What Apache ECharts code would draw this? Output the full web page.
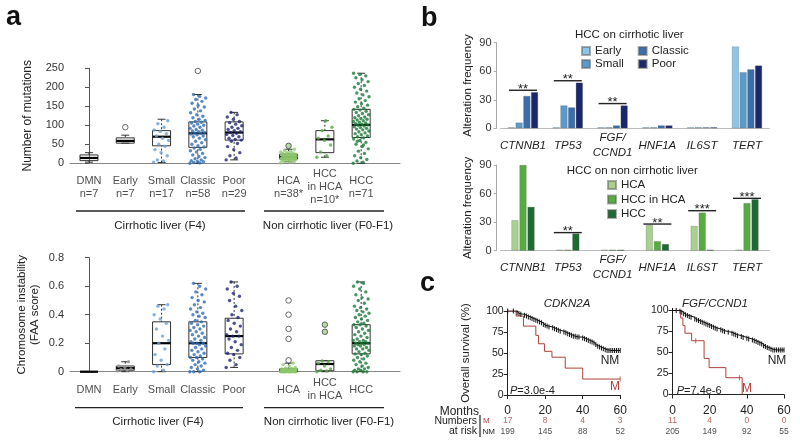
<!DOCTYPE html>
<html><head><meta charset="utf-8">
<script src="https://cdn.jsdelivr.net/npm/echarts@6/dist/echarts.min.js"></script>
<style>html,body{margin:0;padding:0;background:#fff}#c{width:800px;height:447px}</style>
</head><body><div id="c"></div>
<script>
// ================= DATA =================
// Panel a
const aCategories = ['DMN','Early','Small','Classic','Poor','HCA','HCC in HCA','HCC'];
const aTopLabels = ['DMN\nn=7','Early\nn=7','Small\nn=17','Classic\nn=58','Poor\nn=29','HCA\nn=38*','HCC\nin HCA\nn=10*','HCC\nn=71'];
const aBottomLabels = ['DMN','Early','Small','Classic','Poor','HCA','HCC\nin HCA','HCC'];
// box stats: [low whisker, q1, median, q3, high whisker]
const mutBox = [[3,7,14,22,28],[53,53,59,67,74],[2,46,70,86,116],[0,42,79,109,181],[9,61,81,109,134],[4,11,17,24,37],[16,28,63,86,112],[0,68,101,142,237]];
const faaBox = [[0,0,0,0,0],[0,0.01,0.025,0.04,0.07],[0,0.05,0.2,0.35,0.47],[0,0.1,0.2,0.35,0.62],[0.03,0.125,0.25,0.375,0.63],[0,0,0.005,0.02,0.06],[0,0.007,0.054,0.077,0.077],[0,0.125,0.2,0.33,0.63]];
const mutOutliers = [[],[95],[],[243],[],[46],[],[]];
const faaOutliers = [[],[],[],[],[],[0.08,0.23,0.3,0.4,0.5],[0.28,0.33],[]];
// individual samples
const mutSmall = [3,6,9,20,28,36,45,50,60,66,72,78,84,88,95,104,112];
const mutClassic = [0,1,2,4,5,7,9,12,15,18,22,26,30,33,37,40,43,46,50,54,58,62,66,70,72,75,77,79,80,81,83,85,87,89,92,95,98,100,103,106,108,110,113,116,120,124,128,133,138,143,148,152,158,163,168,172,176,181];
const mutPoor = [9,14,20,28,36,44,52,58,61,63,66,70,73,76,79,81,83,86,89,92,95,99,103,107,110,116,122,128,134];
const mutHCA = [1,3,4,5,6,7,8,9,10,10,11,12,13,13,14,15,15,16,16,17,17,18,19,19,20,21,22,22,23,24,25,26,27,28,30,32,34,37];
const mutHCCinHCA = [16,20,30,48,60,66,72,86,95,112];
const mutHCC = [0,3,6,10,15,20,26,32,38,44,50,55,60,64,67,70,72,75,78,80,83,85,88,90,92,94,96,98,100,101,102,104,106,108,110,112,114,116,118,120,122,125,128,131,134,137,140,142,145,149,153,157,161,165,170,175,180,185,190,195,200,205,210,215,220,225,230,234,237,48,58];
const faaEarly = [0.005,0.01,0.015,0.02,0.03,0.04,0.07];
const faaSmall = [0,0.01,0.04,0.05,0.08,0.12,0.16,0.2,0.22,0.25,0.3,0.34,0.37,0.4,0.44,0.46,0.47];
const faaClassic = [0,0,0,0.01,0.02,0.03,0.04,0.05,0.06,0.07,0.08,0.09,0.1,0.1,0.11,0.12,0.13,0.14,0.15,0.16,0.17,0.18,0.19,0.2,0.2,0.2,0.21,0.22,0.23,0.24,0.25,0.26,0.27,0.28,0.29,0.3,0.31,0.32,0.33,0.34,0.35,0.36,0.38,0.39,0.4,0.41,0.42,0.44,0.45,0.47,0.49,0.5,0.52,0.54,0.56,0.58,0.6,0.62];
const faaPoor = [0.03,0.05,0.08,0.1,0.12,0.13,0.15,0.17,0.19,0.21,0.23,0.25,0.25,0.26,0.28,0.3,0.32,0.34,0.36,0.38,0.4,0.43,0.46,0.5,0.53,0.55,0.58,0.6,0.63];
const faaHCA = [0,0,0,0,0,0,0,0,0,0,0,0.002,0.003,0.004,0.005,0.005,0.006,0.007,0.008,0.01,0.01,0.012,0.014,0.015,0.017,0.02,0.02,0.022,0.025,0.03,0.04,0.05,0.06];
const faaHCCinHCA = [0,0.005,0.01,0.02,0.04,0.06,0.07,0.075];
const faaHCC = [0,0,0,0,0.01,0.01,0.02,0.02,0.03,0.04,0.05,0.06,0.07,0.08,0.09,0.1,0.11,0.12,0.125,0.13,0.14,0.15,0.16,0.16,0.17,0.18,0.18,0.19,0.19,0.2,0.2,0.2,0.21,0.21,0.22,0.22,0.23,0.24,0.25,0.26,0.27,0.28,0.29,0.3,0.31,0.32,0.33,0.33,0.34,0.35,0.36,0.37,0.38,0.39,0.4,0.41,0.42,0.43,0.44,0.45,0.46,0.48,0.5,0.51,0.52,0.54,0.56,0.58,0.6,0.62,0.63];

// Panel b
const bGenes = ['CTNNB1','TP53','FGF/\nCCND1','HNF1A','IL6ST','TERT'];
const cirrEarly = [0,0,0,0,0,86];
const cirrSmall = [6,24,0,0,0,59];
const cirrClassic = [34,22,3,3,0,62];
const cirrPoor = [38,48,24,3,0,66];
const noncHCA = [32,0,0,27,26,0];
const noncHCCinHCA = [90,0,0,10,40,50];
const noncHCC = [46,18,1,7,1,54];
const sigTopIdx = [0,1,2], sigTopVal = [40,50,26], sigTopText = ['**','**','**'];
const sigBotIdx = [1,3,4,5], sigBotVal = [19,28,42,55], sigBotText = ['**','**','***','***'];

// Panel c (Kaplan-Meier)
const kmLeftNM = [[0,100],[3,100],[5,98],[6,97],[7,96],[9,95],[10,94],[11,93],[12,92],[13,91],[14,90],[15,89],[16,88],[17,87],[18,86],[19,84],[20,83],[21,82],[22,81],[24,80],[25,79],[26,78],[27,77],[28,76],[30,75],[31,74],[32,73],[33,72],[34,71],[35,70],[36,70],[37,69],[38,69],[40,68],[41,67],[42,66],[43,65],[44,64],[45,63],[46,62],[47,60],[48,58],[49,57],[50,56],[51,55],[52,54],[53,53],[54,53],[55,53],[56,53],[57,53],[58,53],[59,53],[60,53]];
const kmLeftM = [[0,100],[4.5,94],[8.4,82],[15,71],[16.4,61],[19.6,52],[23.6,45],[30.7,32],[40,19],[60,19]];
const kmLeftMCensor = [[60,19]];
const kmRightNM = [[0,100],[2,100],[4,99],[5,98],[6,96],[7,95],[8,94],[9,93],[10,92],[12,90],[13,89],[14,88],[15,87],[16,86],[17,85],[18,84],[19,83],[20,82],[21,81],[22,80],[23,79],[24,78],[26,77],[27,76],[28,75],[30,74],[32,73],[33,72],[34,71],[35,70],[37,69],[38,68],[40,67],[41,66],[43,65],[44,64],[45,63],[46,62],[47,61],[48,60],[49,58],[50,57],[51,56],[52,55],[53,54],[54,53],[55,53],[56,53],[57,53],[58,53],[59,53],[60,53]];
const kmRightM = [[0,100],[4.4,91],[5.6,82],[6.7,73],[10.3,64],[17,43],[19.7,32],[28.7,20],[37.5,0]];
const kmRightMCensor = [[12.5,64],[36,20]];
const kmTicks = [0,20,40,60];
const riskLeftM = [17,8,4,3], riskLeftNM = [199,145,88,52];
const riskRightM = [11,4,0,0], riskRightNM = [205,149,92,55];

// ================= LAYOUT / STYLE =================
const FONT = '"Liberation Sans", Arial, Helvetica, sans-serif';
const catPos = [0,1,2,3,4,5.5,6.5,7.5];
const ptColor = {Early:'#9a9a9a', Small:'#6a9fd2', Classic:'#2f6db2', Poor:'#1d2672', HCA:'#8cc86a', 'HCC in HCA':'#54ad42', HCC:'#1b7a37'};
const mutGroups = {Small:mutSmall, Classic:mutClassic, Poor:mutPoor, HCA:mutHCA, 'HCC in HCA':mutHCCinHCA, HCC:mutHCC};
const faaGroups = {Early:faaEarly, Small:faaSmall, Classic:faaClassic, Poor:faaPoor, HCA:faaHCA, 'HCC in HCA':faaHCCinHCA, HCC:faaHCC};
const outFillTop = {HCA:'#a5cf8b'};
const outFillBot = {'HCC in HCA':'#a5cf8b'};
const RED = '#b0403a';

function jitter(j){ return (((j*0.6180339887) % 1) - 0.5) * 0.44; }

function boxRender(params, api){
  const x = api.value(0);
  const lo = api.coord([x, api.value(1)]), q1 = api.coord([x, api.value(2)]),
        md = api.coord([x, api.value(3)]), q3 = api.coord([x, api.value(4)]),
        hi = api.coord([x, api.value(5)]);
  const hw = 9, cw = 4, cx = md[0];
  const ls = {stroke:'#333', lineWidth:1, lineDash:[2,2]};
  return {type:'group', children:[
    {type:'line', shape:{x1:cx,y1:hi[1],x2:cx,y2:q3[1]}, style:ls},
    {type:'line', shape:{x1:cx,y1:lo[1],x2:cx,y2:q1[1]}, style:ls},
    {type:'line', shape:{x1:cx-cw,y1:hi[1],x2:cx+cw,y2:hi[1]}, style:{stroke:'#333',lineWidth:1}},
    {type:'line', shape:{x1:cx-cw,y1:lo[1],x2:cx+cw,y2:lo[1]}, style:{stroke:'#333',lineWidth:1}},
    {type:'rect', shape:{x:cx-hw,y:q3[1],width:2*hw,height:q1[1]-q3[1]}, style:{fill:'rgba(255,255,255,0.15)',stroke:'#333',lineWidth:1}},
    {type:'line', shape:{x1:cx-hw,y1:md[1],x2:cx+hw,y2:md[1]}, style:{stroke:'#000',lineWidth:2.2}, z2:10}
  ]};
}
function sigRender(params, api){
  const p = api.coord([api.value(0), api.value(1)]);
  const t = params.seriesName === 'sigTop' ? sigTopText[params.dataIndex] : sigBotText[params.dataIndex];
  return {type:'group', children:[
    {type:'line', shape:{x1:p[0]-14,y1:p[1],x2:p[0]+14,y2:p[1]}, style:{stroke:'#222',lineWidth:1.4}},
    {type:'text', x:p[0], y:p[1]-1, style:{text:t, align:'center', verticalAlign:'middle', fontSize:13, fontFamily:FONT, fill:'#222'}}
  ]};
}

const series = [];
// boxes
series.push({type:'custom', name:'boxTop', xAxisIndex:0, yAxisIndex:0, renderItem:boxRender, encode:{x:0,y:[1,2,3,4,5]},
  data: mutBox.map((b,i)=>[catPos[i], ...b]), z:2, silent:true});
series.push({type:'custom', name:'boxBot', xAxisIndex:1, yAxisIndex:1, renderItem:boxRender, encode:{x:0,y:[1,2,3,4,5]},
  data: faaBox.map((b,i)=>[catPos[i], ...b]), z:2, silent:true});
// points
function addPoints(groups, axis){
  Object.keys(groups).forEach(name=>{
    const ci = aCategories.indexOf(name);
    series.push({type:'scatter', name:'pts'+axis+name, xAxisIndex:axis, yAxisIndex:axis, symbolSize:3.4, clip:false, z:3, silent:true,
      itemStyle:{color:ptColor[name]},
      data: groups[name].map((v,j)=>[catPos[ci]+jitter(j), v])});
  });
}
addPoints(mutGroups, 0);
addPoints(faaGroups, 1);
// outliers
function addOutliers(list, axis, fills){
  const d = [];
  list.forEach((arr,i)=>arr.forEach(v=>d.push({value:[catPos[i], v], itemStyle:{color: fills[aCategories[i]] || '#fff'}})));
  series.push({type:'scatter', name:'out'+axis, xAxisIndex:axis, yAxisIndex:axis, symbolSize:5.5, clip:false, z:4, silent:true,
    itemStyle:{borderColor:'#444', borderWidth:1}, data:d});
}
addOutliers(mutOutliers, 0, outFillTop);
addOutliers(faaOutliers, 1, outFillBot);
// category labels
series.push({type:'scatter', name:'labTop', xAxisIndex:0, yAxisIndex:0, symbolSize:1, clip:false, silent:true,
  itemStyle:{color:'rgba(0,0,0,0)'}, data: catPos.map(p=>[p,0]),
  label:{show:true, position:'inside', offset:[0,24], formatter:p=>aTopLabels[p.dataIndex], fontSize:11, lineHeight:13, color:'#222', fontFamily:FONT}});
series.push({type:'scatter', name:'labBot', xAxisIndex:1, yAxisIndex:1, symbolSize:1, clip:false, silent:true,
  itemStyle:{color:'rgba(0,0,0,0)'}, data: catPos.map(p=>[p,0]),
  label:{show:true, position:'inside', offset:[0,18], formatter:p=>aBottomLabels[p.dataIndex], fontSize:11, lineHeight:12.5, color:'#222', fontFamily:FONT}});

// bars panel b
const barTop = [['Early',cirrEarly,'#8cc5e8'],['Small',cirrSmall,'#5a9bcb'],['Classic',cirrClassic,'#3a6fab'],['Poor',cirrPoor,'#1a276c']];
barTop.forEach(([n,d,c])=>series.push({type:'bar', name:n, xAxisIndex:2, yAxisIndex:2, data:d, barWidth:7, barGap:'10%', barMinHeight:1,
  itemStyle:{color:c, borderColor:'rgba(90,90,90,0.5)', borderWidth:0.5}, silent:true}));
const barBot = [['HCA',noncHCA,'#a8d18e'],['HCC in HCA',noncHCCinHCA,'#56ac3e'],['HCC',noncHCC,'#1c6b35']];
barBot.forEach(([n,d,c])=>series.push({type:'bar', name:n, xAxisIndex:3, yAxisIndex:3, data:d, barWidth:7, barGap:'15%', barMinHeight:1,
  itemStyle:{color:c, borderColor:'rgba(90,90,90,0.5)', borderWidth:0.5}, silent:true}));
series.push({type:'custom', name:'sigTop', xAxisIndex:2, yAxisIndex:2, renderItem:sigRender, data:sigTopIdx.map((c,i)=>[c,sigTopVal[i]]), z:5, silent:true});
series.push({type:'custom', name:'sigBot', xAxisIndex:3, yAxisIndex:3, renderItem:sigRender, data:sigBotIdx.map((c,i)=>[c,sigBotVal[i]]), z:5, silent:true});

// KM curves
function addKM(nm, m, mc, axis, rM, rNM){
  series.push({type:'line', name:'nm'+axis, xAxisIndex:axis, yAxisIndex:axis, data:nm, step:'end', showSymbol:true, symbol:'rect', symbolSize:[1,5],
    lineStyle:{color:'#111', width:1}, itemStyle:{color:'#111'}, silent:true, z:3});
  series.push({type:'line', name:'m'+axis, xAxisIndex:axis, yAxisIndex:axis, data:m, step:'end', showSymbol:false,
    lineStyle:{color:RED, width:1}, silent:true, z:2});
  series.push({type:'scatter', name:'mc'+axis, xAxisIndex:axis, yAxisIndex:axis, data:mc, symbol:'rect', symbolSize:[1,5], clip:false,
    itemStyle:{color:RED}, silent:true});
  series.push({type:'scatter', name:'rM'+axis, xAxisIndex:axis, yAxisIndex:axis, symbolSize:1, clip:false, silent:true,
    itemStyle:{color:'rgba(0,0,0,0)'}, data:kmTicks.map(t=>[t,0]),
    label:{show:true, position:'inside', offset:[0,26], formatter:p=>String(rM[p.dataIndex]), fontSize:8.5, color:RED, fontFamily:FONT}});
  series.push({type:'scatter', name:'rNM'+axis, xAxisIndex:axis, yAxisIndex:axis, symbolSize:1, clip:false, silent:true,
    itemStyle:{color:'rgba(0,0,0,0)'}, data:kmTicks.map(t=>[t,0]),
    label:{show:true, position:'inside', offset:[0,37], formatter:p=>String(rNM[p.dataIndex]), fontSize:8.5, color:'#222', fontFamily:FONT}});
}
addKM(kmLeftNM, kmLeftM, kmLeftMCensor, 4, riskLeftM, riskLeftNM);
addKM(kmRightNM, kmRightM, kmRightMCensor, 5, riskRightM, riskRightNM);

// ================= AXES =================
const gridBase = {outerBoundsMode:'none', containLabel:false};
const grids = [
  {left:70, top:68.3, width:330, height:95},
  {left:70, top:257.7, width:330, height:114},
  {left:500.6, top:42.7, width:268.8, height:85.6},
  {left:500.6, top:165, width:268.8, height:85.7},
  {left:507.7, top:311, width:112.5, height:84},
  {left:672.5, top:310.5, width:111.5, height:84}
].map(g=>Object.assign({}, gridBase, g));

const aX = gi => ({gridIndex:gi, type:'value', min:-0.523, max:8.57, axisLine:{lineStyle:{color:'#888'}}, axisTick:{show:false}, axisLabel:{show:false}, splitLine:{show:false}});
const bX = gi => ({gridIndex:gi, type:'category', data:bGenes, axisLine:{lineStyle:{color:'#bbb'}}, axisTick:{show:false},
  axisLabel:{fontStyle:'italic', fontSize:11.5, color:'#222', margin:17, verticalAlign:'middle', lineHeight:15, interval:0, fontFamily:FONT}});
const cX = gi => ({gridIndex:gi, type:'value', min:0, max:60, interval:20, offset:5, axisLine:{lineStyle:{color:'#222'}},
  axisTick:{length:4, lineStyle:{color:'#222'}}, axisLabel:{fontSize:12, color:'#222', margin:5, fontFamily:FONT}, splitLine:{show:false}});
const nameStyle = {fontSize:11.5, color:'#222', fontFamily:FONT};
const yAxes = [
  {gridIndex:0, type:'value', min:0, max:250, interval:50, name:'Number of mutations', nameLocation:'middle', nameGap:36, nameTextStyle:Object.assign({}, nameStyle, {fontSize:12}),
   axisLine:{show:true, lineStyle:{color:'#555'}}, axisTick:{show:true, length:4}, axisLabel:{fontSize:11, color:'#333', margin:6, fontFamily:FONT}, splitLine:{show:false}},
  {gridIndex:1, type:'value', min:0, max:0.8, interval:0.2, name:'Chromosome instability\n(FAA score)', nameLocation:'middle', nameGap:29, nameTextStyle:Object.assign({lineHeight:13}, nameStyle),
   axisLine:{show:true, lineStyle:{color:'#555'}}, axisTick:{show:true, length:4}, axisLabel:{fontSize:11, color:'#333', margin:6, fontFamily:FONT, formatter:v=>String(+v.toFixed(1))}, splitLine:{show:false}},
  {gridIndex:2, type:'value', min:0, max:90, interval:30, offset:4, name:'Alteration frequency', nameLocation:'middle', nameGap:23, nameTextStyle:nameStyle,
   axisLine:{show:true, lineStyle:{color:'#aaa'}}, axisTick:{show:true, length:3, lineStyle:{color:'#aaa'}}, axisLabel:{fontSize:11, color:'#333', margin:5, fontFamily:FONT}, splitLine:{show:false}},
  {gridIndex:3, type:'value', min:0, max:90, interval:30, offset:4, name:'Alteration frequency', nameLocation:'middle', nameGap:23, nameTextStyle:nameStyle,
   axisLine:{show:true, lineStyle:{color:'#aaa'}}, axisTick:{show:true, length:3, lineStyle:{color:'#aaa'}}, axisLabel:{fontSize:11, color:'#333', margin:5, fontFamily:FONT}, splitLine:{show:false}},
  {gridIndex:4, type:'value', min:0, max:100, interval:25, name:'Overall survival (%)', nameLocation:'middle', nameGap:36, nameTextStyle:nameStyle,
   axisLine:{show:true, lineStyle:{color:'#222'}}, axisTick:{show:true, length:4, lineStyle:{color:'#222'}}, axisLabel:{fontSize:10.5, color:'#222', margin:4, fontFamily:FONT}, splitLine:{show:false}},
  {gridIndex:5, type:'value', min:0, max:100, interval:25,
   axisLine:{show:true, lineStyle:{color:'#222'}}, axisTick:{show:true, length:4, lineStyle:{color:'#222'}}, axisLabel:{fontSize:10.5, color:'#222', margin:4, fontFamily:FONT}, splitLine:{show:false}}
];

// ================= ANNOTATIONS =================
function txt(text, x, y, o){
  o = o || {};
  return {type:'text', x:x, y:y, silent:true, style:Object.assign({text:text, align:o.align||'center', verticalAlign:'middle',
    fontSize:o.size||11.5, fontFamily:FONT, fontWeight:o.weight||'normal', fontStyle:o.style||'normal', fill:o.color||'#222'}, o.extra||{})};
}
function ln(x1,y1,x2,y2,w){ return {type:'line', silent:true, shape:{x1,y1,x2,y2}, style:{stroke:'#222', lineWidth:w||1.3}}; }
const graphics = [
  txt('a', 6, 18, {align:'left', size:27, weight:'bold', color:'#111'}),
  txt('b', 421, 19, {align:'left', size:27, weight:'bold', color:'#111'}),
  txt('c', 420, 284, {align:'left', size:27, weight:'bold', color:'#111'}),
  ln(76,211,245,211), ln(264,211,384,211), ln(75,407.7,243,407.7), ln(264,407.7,384,407.7),
  txt('Cirrhotic liver (F4)', 160, 226), txt('Non cirrhotic liver (F0-F1)', 328, 226),
  txt('Cirrhotic liver (F4)', 158, 421.7), txt('Non cirrhotic liver (F0-F1)', 329, 421.7),
  txt('HCC on cirrhotic liver', 575, 35, {align:'left'}),
  txt('HCC on non cirrhotic liver', 566.7, 171, {align:'left'}),
  txt('CDKN2A', 567, 304, {style:'italic'}),
  txt('FGF/CCND1', 715, 304, {style:'italic'}),
  txt('{i|P}=3.0e-4', 510, 391, {align:'left', size:11, extra:{rich:{i:{fontStyle:'italic', fontSize:11, fontFamily:FONT, fill:'#222'}}}}),
  txt('{i|P}=7.4e-6', 676.7, 391, {align:'left', size:11, extra:{rich:{i:{fontStyle:'italic', fontSize:11, fontFamily:FONT, fill:'#222'}}}}),
  txt('NM', 610, 361, {size:12}), txt('M', 615, 387, {size:12, color:RED}),
  txt('NM', 777, 361, {size:12}), txt('M', 747, 389, {size:12, color:RED}),
  txt('Months', 479, 411.7, {align:'right', size:12}),
  txt('Numbers', 477, 421.5, {align:'right', size:10.5}),
  txt('at risk', 477, 431.5, {align:'right', size:10.5}),
  ln(480,415,480,437,1.2),
  txt('M', 483, 421, {align:'left', size:8, color:RED}),
  txt('NM', 482.5, 432, {align:'left', size:8})
];

const legendText = {fontSize:11.5, color:'#222', fontFamily:FONT, lineHeight:12};
const option = {
  animation:false,
  backgroundColor:'#fff',
  textStyle:{fontFamily:FONT},
  grid:grids,
  xAxis:[aX(0), aX(1), bX(2), bX(3), cX(4), cX(5)],
  yAxis:yAxes,
  legend:[
    {data:['Early','Classic'], left:581, top:45, orient:'horizontal', icon:'rect', itemWidth:8, itemHeight:8, itemGap:16.5, selectedMode:false, textStyle:legendText, padding:0},
    {data:['Small','Poor'], left:581, top:58, orient:'horizontal', icon:'rect', itemWidth:8, itemHeight:8, itemGap:14, selectedMode:false, textStyle:legendText, padding:0},
    {data:['HCA','HCC in HCA','HCC'], left:607, top:179, orient:'vertical', icon:'rect', itemWidth:8, itemHeight:8, itemGap:2.5, selectedMode:false, textStyle:legendText, padding:0}
  ],
  series:series,
  graphic:{elements:graphics}
};
const chart = echarts.init(document.getElementById('c'), null, {renderer:'canvas'});
chart.setOption(option);
</script>
</body></html>
